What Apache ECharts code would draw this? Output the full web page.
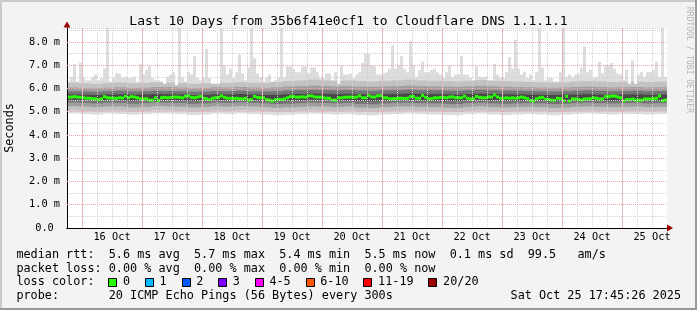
<!DOCTYPE html>
<html><head><meta charset="utf-8">
<script src="https://cdn.jsdelivr.net/npm/echarts@6/dist/echarts.min.js"></script>
<style>html,body{margin:0;padding:0;background:#f3f3f3}#c{width:697px;height:310px}</style>
</head><body><div id="c"></div>
<script>
// ---------- data ----------
const titleText = 'Last 10 Days from 35b6f41e0cf1 to Cloudflare DNS 1.1.1.1';
const dayLabels = ['16 Oct','17 Oct','18 Oct','19 Oct','20 Oct','21 Oct','22 Oct','23 Oct','24 Oct','25 Oct'];
const midnightHours = [6,30,54,78,102,126,150,174,198,222]; // hours after 15 Oct 18:00
const axisHours = 240;       // 15 Oct 18:00 .. 25 Oct 18:00
const fineBinHours = 1.2;    // 200 bins
const coarseBinHours = 4.8;  // 50 bins

// highest ping per bin (ms)
const maxPing = [
6.3,6.5,7.05,6.3,7.1,6.45,6.35,6.35,6.5,6.6,
6.35,6.45,6.85,8.6,6.3,6.45,6.65,6.65,6.45,6.5,
6.45,6.45,6.5,6.3,7.05,6.6,6.8,6.95,6.45,6.35,
6.35,6.3,6.2,6.5,6.6,6.7,6.15,8.6,6.5,6.3,
6.7,6.6,7.4,6.45,6.35,6.45,7.7,6.45,6.2,6.2,
6.2,8.6,7.0,6.6,6.85,6.45,6.7,7.45,6.65,6.35,
6.9,8.6,7.3,6.65,6.5,6.3,6.45,6.6,6.3,6.35,
6.45,8.6,6.45,6.95,6.95,6.85,6.7,6.7,6.95,6.95,
6.65,6.9,6.9,6.7,6.45,6.45,6.65,6.65,6.35,6.7,
6.2,7.0,6.6,6.6,6.65,6.45,6.6,6.7,7.1,7.5,
7.5,7.0,6.95,6.6,6.6,6.65,6.7,6.85,7.85,6.85,
7.0,7.4,6.85,6.7,8.05,7.0,6.5,6.8,7.15,6.7,
6.7,6.8,6.85,6.7,6.6,6.45,6.7,7.0,6.5,6.6,
6.6,7.4,6.6,6.6,6.45,6.35,6.95,6.5,6.5,6.5,
6.35,6.35,7.05,6.6,6.45,6.45,6.7,7.35,6.85,8.1,
6.85,6.6,6.7,6.45,6.6,6.35,6.7,8.6,6.9,6.35,
6.45,6.45,6.3,6.3,6.7,8.6,6.5,6.6,6.5,6.6,
6.65,6.9,7.8,6.7,6.8,6.45,6.5,7.15,6.65,7.0,
7.0,7.1,6.85,6.65,6.6,6.35,6.8,6.2,7.2,6.2,
6.6,6.7,6.5,6.7,6.7,6.8,7.15,6.5,8.6,6.5];

// median rtt per bin (ms)
const medianRtt = [
5.63,5.63,5.65,5.63,5.62,5.6,5.58,5.58,5.56,5.55,
5.52,5.55,5.65,5.6,5.59,5.58,5.58,5.6,5.59,5.66,
5.6,5.65,5.63,5.6,5.55,5.55,5.56,5.5,5.5,5.6,
5.48,5.6,5.62,5.6,5.62,5.63,5.63,5.62,5.6,5.66,
5.68,5.62,5.6,5.63,5.66,5.58,5.56,5.52,5.58,5.6,
5.62,5.68,5.62,5.58,5.58,5.57,5.58,5.56,5.55,5.58,
5.5,5.52,5.66,5.62,5.6,5.6,5.52,5.5,5.46,5.52,
5.53,5.52,5.55,5.6,5.65,5.65,5.63,5.63,5.64,5.63,
5.68,5.68,5.64,5.63,5.63,5.6,5.58,5.58,5.5,5.5,
5.6,5.6,5.62,5.63,5.63,5.62,5.63,5.68,5.6,5.6,
5.7,5.64,5.63,5.68,5.69,5.6,5.6,5.56,5.56,5.56,
5.58,5.58,5.57,5.58,5.65,5.65,5.58,5.58,5.7,5.62,
5.56,5.56,5.6,5.6,5.62,5.61,5.6,5.63,5.64,5.6,
5.6,5.6,5.67,5.58,5.55,5.56,5.66,5.62,5.6,5.6,
5.64,5.63,5.72,5.64,5.58,5.58,5.6,5.58,5.6,5.58,
5.6,5.63,5.6,5.56,5.48,5.46,5.56,5.6,5.62,5.54,
5.53,5.5,5.49,5.58,5.56,5.47,5.66,5.46,5.55,5.55,
5.53,5.5,5.55,5.55,5.56,5.6,5.58,5.55,5.55,5.65,
5.65,5.67,5.67,5.64,5.6,5.46,5.52,5.52,5.55,5.5,
5.5,5.5,5.55,5.55,5.55,5.56,5.58,5.68,5.47,5.5];

// smoke boundaries (coarse bins, ms)
const minPing = [4.93,4.9,4.88,4.92,4.9,4.87,4.9,4.93,4.92,4.9,4.86,4.88,4.92,4.9,4.93,4.9,4.88,4.85,4.87,4.9,4.92,4.9,4.88,4.9,4.86,4.84,4.88,4.9,4.92,4.9,4.88,4.86,4.85,4.9,4.92,4.88,4.86,4.88,4.9,4.88,4.85,4.87,4.9,4.92,4.9,4.88,4.9,4.9,4.88,4.9];
const low2 = [5.05,5.03,5.02,5.05,5.04,5.0,5.03,5.06,5.05,5.03,5.0,5.02,5.05,5.03,5.06,5.04,5.02,4.99,5.0,5.03,5.05,5.03,5.02,5.04,5.0,4.98,5.02,5.04,5.05,5.03,5.02,5.0,4.99,5.03,5.05,5.02,5.0,5.02,5.03,5.02,4.99,5.0,5.03,5.05,5.03,5.02,5.03,5.04,5.02,5.03];
const low3 = [5.24,5.22,5.2,5.23,5.22,5.19,5.21,5.24,5.23,5.22,5.18,5.2,5.23,5.22,5.24,5.22,5.2,5.17,5.19,5.21,5.23,5.22,5.2,5.22,5.18,5.16,5.2,5.22,5.23,5.21,5.2,5.18,5.17,5.21,5.23,5.2,5.18,5.2,5.21,5.2,5.17,5.18,5.21,5.23,5.21,5.2,5.21,5.22,5.2,5.21];
const low4 = [5.4,5.38,5.36,5.39,5.38,5.35,5.37,5.4,5.39,5.38,5.34,5.36,5.39,5.38,5.4,5.38,5.36,5.33,5.35,5.37,5.39,5.38,5.36,5.38,5.34,5.32,5.36,5.38,5.39,5.37,5.36,5.34,5.33,5.37,5.39,5.36,5.34,5.36,5.37,5.36,5.33,5.34,5.37,5.39,5.37,5.36,5.37,5.38,5.36,5.37];
const low5 = [5.52,5.5,5.49,5.51,5.5,5.48,5.5,5.52,5.51,5.5,5.47,5.49,5.51,5.5,5.52,5.5,5.46,5.45,5.48,5.5,5.52,5.51,5.49,5.5,5.47,5.45,5.49,5.51,5.52,5.5,5.49,5.47,5.46,5.5,5.52,5.49,5.47,5.48,5.5,5.49,5.45,5.46,5.48,5.5,5.48,5.47,5.48,5.49,5.47,5.48];
const high4 = [5.74,5.73,5.72,5.74,5.75,5.73,5.74,5.76,5.75,5.74,5.72,5.73,5.75,5.74,5.76,5.74,5.72,5.73,5.75,5.77,5.78,5.77,5.76,5.77,5.75,5.74,5.76,5.77,5.78,5.77,5.76,5.75,5.74,5.76,5.78,5.76,5.75,5.75,5.74,5.73,5.72,5.73,5.74,5.76,5.74,5.73,5.74,5.75,5.73,5.74];
const high3 = [5.88,5.87,5.86,5.88,5.9,5.87,5.88,5.9,5.89,5.88,5.86,5.87,5.89,5.88,5.9,5.88,5.87,5.88,5.91,5.93,5.94,5.93,5.92,5.93,5.91,5.9,5.92,5.93,5.95,5.93,5.92,5.91,5.9,5.92,5.94,5.92,5.91,5.9,5.89,5.88,5.87,5.88,5.9,5.92,5.9,5.88,5.89,5.9,5.88,5.89];
const high2 = [6.04,6.02,6.0,6.03,6.05,6.02,6.03,6.06,6.05,6.04,6.01,6.02,6.05,6.04,6.06,6.04,6.03,6.05,6.08,6.1,6.12,6.1,6.09,6.1,6.08,6.07,6.09,6.1,6.12,6.1,6.09,6.08,6.07,6.09,6.11,6.09,6.08,6.06,6.05,6.04,6.03,6.04,6.06,6.08,6.06,6.04,6.05,6.06,6.04,6.05];
const high1 = [6.25,6.22,6.2,6.24,6.26,6.22,6.24,6.27,6.26,6.24,6.2,6.22,6.26,6.24,6.27,6.25,6.24,6.28,6.32,6.35,6.38,6.35,6.33,6.35,6.32,6.3,6.33,6.35,6.38,6.35,6.33,6.32,6.3,6.33,6.36,6.33,6.32,6.3,6.28,6.27,6.26,6.27,6.3,6.32,6.3,6.28,6.29,6.3,6.28,6.3];

const legendLines = [
  'median rtt:  5.6 ms avg  5.7 ms max  5.4 ms min  5.5 ms now  0.1 ms sd  99.5   am/s',
  'packet loss: 0.00 % avg  0.00 % max  0.00 % min  0.00 % now',
  'loss color:',
  'probe:       20 ICMP Echo Pings (56 Bytes) every 300s'
];
const lossLabels = ['0','1','2','3','4-5','6-10','11-19','20/20'];
const lossColors = ['#26ff00','#00b8ff','#0059ff','#7e00ff','#ff00ff','#ff5500','#ff0000','#a10000'];
const dateText = 'Sat Oct 25 17:45:26 2025';
const watermark = 'RRDTOOL / TOBI OETIKER';

// ---------- build ----------
const FONT = '"DejaVu Sans Mono", monospace';
const smokeColors = ['#dddddd','#c2c2c2','#9e9e9e','#747474','#484848'];
const lowArrs = [minPing, low2, low3, low4, low5];
const highArrs = [null, high1, high2, high3, high4];
const MAJOR = '#f0a6a6', MINOR = '#d2d2d2';

function rectRender(color) {
  return function (params, api) {
    const a = api.coord([api.value(0), api.value(3)]);
    const b = api.coord([api.value(1), api.value(2)]);
    return {type: 'rect', shape: {x: a[0], y: a[1], width: b[0] - a[0], height: b[1] - a[1]}, style: {fill: color}};
  };
}
const series = [];
for (let k = 0; k < 5; k++) {
  const data = maxPing.map((mx, i) => {
    const j = Math.floor(i * fineBinHours / coarseBinHours);
    const hi = highArrs[k] ? Math.min(highArrs[k][j], mx) : mx;
    return [i * fineBinHours, (i + 1) * fineBinHours, lowArrs[k][j], hi];
  });
  series.push({type: 'custom', coordinateSystem: 'cartesian2d', silent: true, z: 2,
    encode: {x: [0, 1], y: [2, 3]}, data, renderItem: rectRender(smokeColors[k])});
}
series.push({type: 'custom', coordinateSystem: 'cartesian2d', silent: true, z: 2,
  encode: {x: [0, 1], y: 2},
  data: medianRtt.map((m, i) => [i * fineBinHours, (i + 1) * fineBinHours, m]),
  renderItem: function (params, api) {
    const a = api.coord([api.value(0), api.value(2)]);
    const b = api.coord([api.value(1), api.value(2)]);
    return {type: 'rect', shape: {x: a[0], y: a[1] - 1.5, width: b[0] - a[0], height: 3}, style: {fill: lossColors[0]}};
  },
  markLine: {silent: true, symbol: ['none', 'none'], z: 5, label: {show: false},
    lineStyle: {color: MAJOR, type: [1, 1], width: 1},
    data: midnightHours.map(h => ({xAxis: h}))}
});

const graphics = [
  {type: 'rect', shape: {x: 0, y: 0, width: 697, height: 2}, style: {fill: '#cbcbcb'}, silent: true},
  {type: 'rect', shape: {x: 0, y: 0, width: 2, height: 310}, style: {fill: '#cbcbcb'}, silent: true},
  {type: 'rect', shape: {x: 695, y: 0, width: 2, height: 310}, style: {fill: '#999999'}, silent: true},
  {type: 'rect', shape: {x: 0, y: 308, width: 697, height: 2}, style: {fill: '#999999'}, silent: true},
  {type: 'text', x: 689, y: 60, rotation: -Math.PI / 2, silent: true,
    style: {text: watermark, font: '8px ' + FONT, fill: '#b4b4b4', align: 'center', verticalAlign: 'middle'}}
];
const rowY = [254.5, 268.5, 282.3, 296];
legendLines.forEach((t, i) => graphics.push({type: 'text', x: 16.4, y: rowY[i], silent: true,
  style: {text: t, font: '11.8px ' + FONT, fill: '#000', verticalAlign: 'middle'}}));
graphics.push({type: 'text', x: 681, y: rowY[3], silent: true,
  style: {text: dateText, font: '11.8px ' + FONT, fill: '#000', align: 'right', verticalAlign: 'middle'}});
let bx = 108.4;
lossLabels.forEach((lab, i) => {
  graphics.push({type: 'rect', shape: {x: Math.round(bx) + 0.5, y: 278.5, width: 8, height: 8},
    style: {fill: lossColors[i], stroke: '#000', lineWidth: 1}, silent: true});
  graphics.push({type: 'text', x: bx + 14.6, y: rowY[2], silent: true,
    style: {text: lab, font: '11.8px ' + FONT, fill: '#000', verticalAlign: 'middle'}});
  bx += 14.6 + lab.length * 7.1 + 14.9;
});

const chart = echarts.init(document.getElementById('c'), null, {renderer: 'canvas'});
chart.setOption({
  animation: false,
  backgroundColor: '#f3f3f3',
  title: {text: titleText, left: 'center', top: 10,
    textStyle: {fontFamily: FONT, fontSize: 13, fontWeight: 'normal', color: '#000'}},
  grid: {left: 67, right: 30, top: 28, bottom: 82, containLabel: false, outerBoundsMode: 'none',
    show: true, backgroundColor: '#ffffff', borderWidth: 0},
  xAxis: [
    {type: 'value', min: 0, max: axisHours, interval: 6, position: 'bottom', z: 3,
      axisLine: {show: true, onZero: false, lineStyle: {color: '#000', width: 1}},
      axisTick: {show: false},
      axisLabel: {margin: 4, fontFamily: FONT, fontSize: 10.3, color: '#000',
        formatter: v => ((v - 18) % 24 === 0 && v >= 18) ? dayLabels[(v - 18) / 24] : ''},
      splitLine: {show: true, showMinLine: false, showMaxLine: false,
        lineStyle: {color: MINOR, type: [1, 1], width: 1}}},
    {type: 'value', min: 0, max: axisHours, position: 'bottom', z: 2,
      axisLine: {show: true, onZero: false, symbol: ['none', 'triangle'], symbolSize: [7, 6], symbolOffset: [0, 3],
        lineStyle: {color: '#a00000', width: 1}},
      axisTick: {show: false}, axisLabel: {show: false}, splitLine: {show: false}}
  ],
  yAxis: [
    {type: 'value', min: 0, max: 8.6, interval: 0.5, position: 'left', z: 3,
      name: 'Seconds', nameLocation: 'middle', nameRotate: 90, nameGap: 51,
      nameTextStyle: {fontFamily: FONT, fontSize: 11.8, color: '#000'},
      axisLine: {show: true, onZero: false, lineStyle: {color: '#000', width: 1}},
      axisTick: {show: false},
      axisLabel: {margin: 7, fontFamily: FONT, fontSize: 10.3, color: '#000',
        formatter: v => {
          const r = Math.round(v * 10) / 10;
          if (Math.abs(r - Math.round(r)) > 1e-6) return '';
          return r === 0 ? '0.0 ' : r.toFixed(1) + ' m';
        }},
      splitLine: {show: true, showMinLine: false, showMaxLine: true,
        lineStyle: {color: MINOR, type: [1, 1], width: 1}}},
    {type: 'value', min: 0, max: 8.6, position: 'left', z: 2,
      axisLine: {show: true, onZero: false, symbol: ['none', 'triangle'], symbolSize: [7, 6], symbolOffset: [0, 3.5],
        lineStyle: {color: '#a00000', width: 1}},
      axisTick: {show: false}, axisLabel: {show: false}, splitLine: {show: false}},
    {type: 'value', min: 0, max: 8.6, interval: 1, position: 'left', z: 4,
      axisLine: {show: false}, axisTick: {show: false}, axisLabel: {show: false},
      splitLine: {show: true, showMinLine: false, showMaxLine: false,
        lineStyle: {color: MAJOR, type: [1, 1], width: 1}}}
  ],
  series: series,
  graphic: graphics
});
</script></body></html>
